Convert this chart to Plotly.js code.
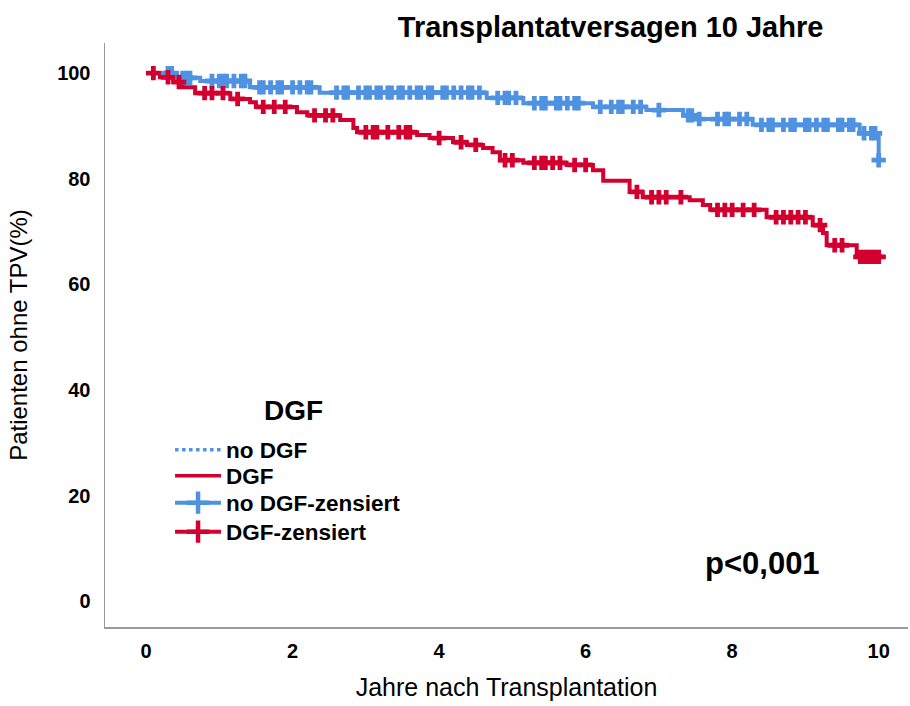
<!DOCTYPE html>
<html>
<head>
<meta charset="utf-8">
<script src="https://cdn.plot.ly/plotly-3.0.1.min.js"></script>
<style>html,body{margin:0;padding:0;background:#fff;}#chart{width:910px;height:706px;}</style>
</head>
<body>
<div id="chart"></div>
<script>
// Kaplan-Meier step data (years, % without graft failure)
const noDgfTime = [0, 0.42, 0.74, 1.42, 2.37, 4.65, 5.15, 6.1, 6.83, 7.33, 7.5, 8.28, 9.74, 10.0];
const noDgfSurv = [100, 99.1, 98.5, 97.3, 96.3, 95.3, 94.3, 93.6, 93.0, 92.0, 91.3, 90.2, 88.6, 83.5];
const dgfTime = [0, 0.19, 0.37, 0.5, 0.67, 1.15, 1.42, 1.5, 2.06, 2.2, 2.65, 2.83, 2.88, 3.7, 3.87, 4.19, 4.38, 4.6, 4.73, 4.83, 5.15, 5.74, 6.1, 6.24, 6.6, 6.78, 7.42, 7.6, 7.7, 8.47, 9.1, 9.24, 9.29, 9.7, 10.03];
const dgfSurv = [100, 99.2, 98.3, 97.3, 96.2, 95.1, 94.5, 93.6, 92.6, 92.0, 91.1, 89.6, 88.8, 88.3, 87.7, 86.9, 86.4, 85.8, 85.0, 83.5, 83.0, 82.6, 81.6, 79.6, 77.5, 76.5, 75.9, 75.0, 74.1, 72.7, 71.2, 69.7, 67.4, 65.2, 65.2];
// censoring times
const noDgfCens = [0.3, 0.35, 0.5, 0.55, 0.6, 0.9, 1.0, 1.05, 1.1, 1.2, 1.3, 1.35, 1.55, 1.6, 1.7, 1.8, 1.85, 2.0, 2.1, 2.2, 2.25, 2.6, 2.7, 2.75, 2.9, 3.0, 3.05, 3.15, 3.2, 3.3, 3.35, 3.45, 3.5, 3.6, 3.7, 3.75, 3.85, 3.9, 4.05, 4.1, 4.2, 4.3, 4.4, 4.45, 4.55, 4.8, 4.9, 4.95, 5.05, 5.3, 5.4, 5.45, 5.6, 5.65, 5.75, 5.85, 5.9, 6.2, 6.35, 6.45, 6.5, 6.65, 6.75, 7.0, 7.4, 7.45, 7.55, 7.8, 7.9, 7.95, 8.1, 8.2, 8.4, 8.5, 8.55, 8.7, 8.8, 8.85, 9.0, 9.05, 9.15, 9.25, 9.3, 9.45, 9.5, 9.6, 9.65, 9.8, 9.9, 9.95, 10.0];
const dgfCens = [0.1, 0.3, 0.45, 0.8, 0.9, 1.05, 1.25, 1.6, 1.75, 1.9, 2.3, 2.45, 2.55, 3.0, 3.1, 3.15, 3.3, 3.45, 3.55, 3.6, 4.0, 4.3, 4.5, 4.9, 5.0, 5.3, 5.4, 5.45, 5.55, 5.65, 5.85, 6.0, 6.7, 6.9, 7.0, 7.1, 7.3, 7.8, 7.9, 8.0, 8.15, 8.3, 8.6, 8.7, 8.8, 8.9, 9.0, 9.2, 9.4, 9.5, 9.75, 9.8, 9.85, 9.9, 9.95, 10.0];
const groupNames = ["no DGF", "DGF", "no DGF-zensiert", "DGF-zensiert"];
const legendTitle = "DGF";
const xTicks = [0, 2, 4, 6, 8, 10];
const yTicks = [0, 20, 40, 60, 80, 100];

const BLUE = "#4F92E2", RED = "#D3002F";
const FONT = "Liberation Sans, Arial, sans-serif";

function stepAt(times, vals, t) {
  let v = vals[0];
  for (let i = 0; i < times.length; i++) { if (times[i] <= t) v = vals[i]; }
  return v;
}

const traces = [
  {x: noDgfTime, y: noDgfSurv, mode: "lines", line: {shape: "hv", color: BLUE, width: 4}, showlegend: false, hoverinfo: "skip"},
  {x: dgfTime, y: dgfSurv, mode: "lines", line: {shape: "hv", color: RED, width: 4}, showlegend: false, hoverinfo: "skip"},
  {x: noDgfCens, y: noDgfCens.map(t => stepAt(noDgfTime, noDgfSurv, t)), mode: "markers", marker: {symbol: "cross", size: 12, color: BLUE}, showlegend: false},
  {x: dgfCens, y: dgfCens.map(t => stepAt(dgfTime, dgfSurv, t)), mode: "markers", marker: {symbol: "cross", size: 12, color: RED}, showlegend: false},
  // legend entries
  {x: [null], y: [null], name: groupNames[0], legend: "legend", mode: "lines", line: {color: BLUE, width: 3.5, dash: "dot"}},
  {x: [null], y: [null], name: groupNames[1], legend: "legend2", mode: "lines", line: {color: RED, width: 3.5}},
  {x: [null], y: [null], name: groupNames[2], legend: "legend3", mode: "lines+markers", line: {color: BLUE, width: 4}, marker: {symbol: "cross-thin", size: 28, color: BLUE, line: {color: BLUE, width: 4.5}}},
  {x: [null], y: [null], name: groupNames[3], legend: "legend4", mode: "lines+markers", line: {color: RED, width: 4}, marker: {symbol: "cross-thin", size: 28, color: RED, line: {color: RED, width: 4.5}}}
];

function legendAt(py) {
  return {
    x: 0.081, y: (627 - py) / 584, xanchor: "left", yanchor: "middle",
    bgcolor: "rgba(0,0,0,0)", itemwidth: 46,
    font: {size: 22.5, weight: "bold", family: FONT, color: "#000"}
  };
}

const layout = {
  width: 910, height: 706,
  paper_bgcolor: "#fff", plot_bgcolor: "#fff",
  margin: {l: 105, r: 2, t: 43, b: 79},
  font: {family: FONT, color: "#000"},
  title: {text: "Transplantatversagen 10 Jahre", x: 0.671, xanchor: "center", y: 0.962, yanchor: "middle", font: {size: 29, weight: "bold", family: FONT, color: "#000"}},
  xaxis: {
    range: [-0.56, 10.4], tickvals: xTicks, ticktext: xTicks.map(String),
    showgrid: false, zeroline: false, showline: true, linecolor: "#9a9a9a", linewidth: 1.5,
    ticks: "", ticklen: 0, tickfont: {size: 20, weight: "bold", family: FONT}, ticklabelstandoff: 5,
    title: {text: "Jahre nach Transplantation", font: {size: 25, family: FONT}, standoff: 18}
  },
  yaxis: {
    range: [-4.9, 105.7], tickvals: yTicks, ticktext: yTicks.map(String),
    showgrid: false, zeroline: false, showline: true, linecolor: "#9a9a9a", linewidth: 1.5,
    ticks: "", tickfont: {size: 20, weight: "bold", family: FONT}, ticklabelstandoff: 9,
    title: {text: "Patienten ohne TPV(%)", font: {size: 24, family: FONT}, standoff: 22}
  },
  legend: legendAt(450),
  legend2: legendAt(476),
  legend3: legendAt(503),
  legend4: legendAt(532),
  annotations: [
    {x: (293 - 105) / 803, y: (627 - 410) / 584, xref: "paper", yref: "paper", xanchor: "center", yanchor: "middle", text: legendTitle, showarrow: false, font: {size: 28, weight: "bold", family: FONT, color: "#000"}},
    {x: 8.42, y: 7.2, xref: "x", yref: "y", xanchor: "center", yanchor: "middle", text: "p<0,001", showarrow: false, font: {size: 31, weight: "bold", family: FONT, color: "#000"}}
  ]
};

Plotly.newPlot("chart", traces, layout, {displayModeBar: false, staticPlot: true});
</script>
</body>
</html>
